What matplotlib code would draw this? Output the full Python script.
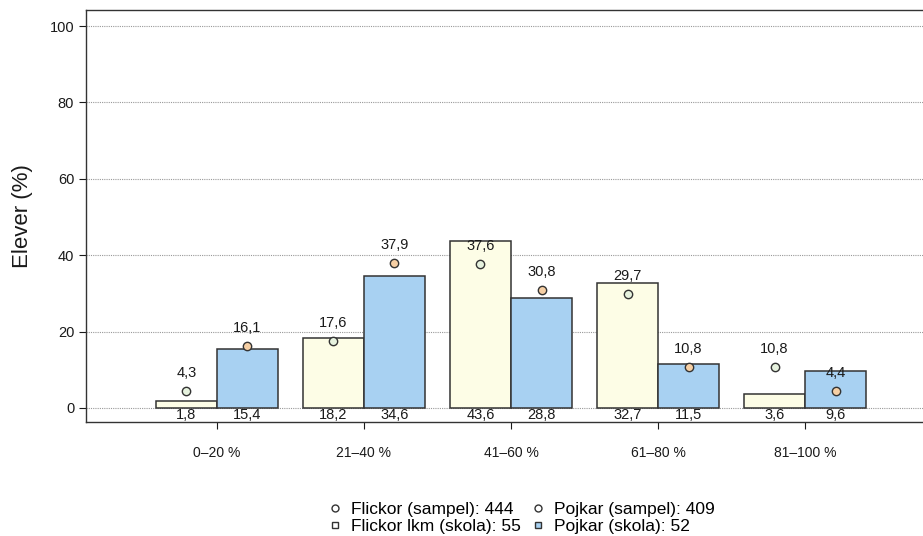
import matplotlib.pyplot as plt
from matplotlib.lines import Line2D
import numpy as np

plt.rcParams['font.family'] = ['Liberation Sans', 'DejaVu Sans']

categories = ['0–20 %', '21–40 %', '41–60 %', '61–80 %', '81–100 %']
flickor_skola = [1.8, 18.2, 43.6, 32.7, 3.6]
pojkar_skola = [15.4, 34.6, 28.8, 11.5, 9.6]
flickor_sampel = [4.3, 17.6, 37.6, 29.7, 10.8]
pojkar_sampel = [16.1, 37.9, 30.8, 10.8, 4.4]
yticks = [0, 20, 40, 60, 80, 100]

girl_bar = '#fdfde6'
boy_bar = '#a8d1f2'
girl_dot = '#e6f2de'
boy_dot = '#f6cfa4'
edge = '#333333'
txt = '#1a1a1a'


def fmt(v):
    return ('%.1f' % v).replace('.', ',')


fig = plt.figure(figsize=(9.23, 5.36), dpi=100)
ax1 = fig.add_axes([86 / 923, 1 - 422 / 536, 850 / 923, 412 / 536])

x = np.arange(len(categories))
w = 0.415

ax1.bar(x - w / 2, flickor_skola, w, color=girl_bar, edgecolor=edge, linewidth=1.1, zorder=3)
ax1.bar(x + w / 2, pojkar_skola, w, color=boy_bar, edgecolor=edge, linewidth=1.1, zorder=3)
ax1.scatter(x - w / 2, flickor_sampel, s=36, color=girl_dot, edgecolor=edge, linewidth=1.0, zorder=4)
ax1.scatter(x + w / 2, pojkar_sampel, s=36, color=boy_dot, edgecolor=edge, linewidth=1.0, zorder=4)

for i in range(len(categories)):
    ax1.annotate(fmt(flickor_sampel[i]), (x[i] - w / 2, flickor_sampel[i]), xytext=(0, 13),
                 textcoords='offset points', ha='center', va='center', fontsize=10.5, color=txt, zorder=5)
    ax1.annotate(fmt(pojkar_sampel[i]), (x[i] + w / 2, pojkar_sampel[i]), xytext=(0, 13),
                 textcoords='offset points', ha='center', va='center', fontsize=10.5, color=txt, zorder=5)
    ax1.text(x[i] - w / 2, -1.9, fmt(flickor_skola[i]), ha='center', va='center', fontsize=10.5, color=txt)
    ax1.text(x[i] + w / 2, -1.9, fmt(pojkar_skola[i]), ha='center', va='center', fontsize=10.5, color=txt)

ax1.set_xlim(-0.89, 4.89)
ax1.set_ylim(-3.7, 104.2)
ax1.set_yticks(yticks)
ax1.set_xticks(x)
ax1.set_xticklabels(categories)
ax1.tick_params(axis='both', labelsize=10.5, colors=txt, length=5)
ax1.tick_params(axis='x', labelsize=10, pad=12)
for yv in yticks:
    ax1.axhline(yv, color='#999999', linestyle=(0, (1, 1)), linewidth=0.8, zorder=1)
for s in ax1.spines.values():
    s.set_color('#333333')
    s.set_linewidth(1.0)
ax1.set_ylabel('Elever (%)', fontsize=16, color=txt, labelpad=12)

handles = [
    Line2D([], [], marker='o', linestyle='', markersize=5, markerfacecolor='white', markeredgecolor=edge),
    Line2D([], [], marker='s', linestyle='', markersize=5, markerfacecolor='white', markeredgecolor=edge),
    Line2D([], [], marker='o', linestyle='', markersize=5, markerfacecolor='white', markeredgecolor=edge),
    Line2D([], [], marker='s', linestyle='', markersize=5, markerfacecolor=boy_bar, markeredgecolor=edge),
]
labels = ['Flickor (sampel): 444', 'Flickor lkm (skola): 55', 'Pojkar (sampel): 409', 'Pojkar (skola): 52']
fig.legend(handles, labels, ncol=2, loc='center', bbox_to_anchor=(0.565, 0.034), frameon=False,
           fontsize=12.5, handlelength=0.8, handletextpad=0.5, columnspacing=0.6, labelspacing=0.12)

plt.savefig('out.png', dpi=100)
